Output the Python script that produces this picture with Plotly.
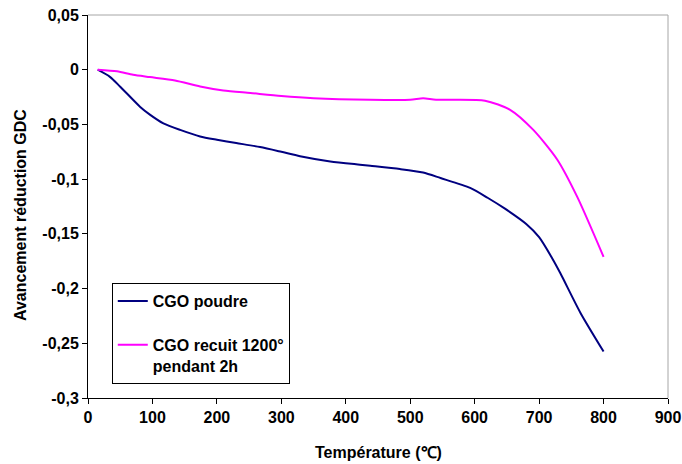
import plotly.graph_objects as go

# CGO poudre
temp_poudre = [15, 34, 50, 81, 96, 117, 143, 174, 200, 230, 267, 300, 329, 376, 422, 438,
               484, 520, 547, 593, 620, 647, 680, 700, 720, 733, 764, 800]
av_poudre = [0, -0.0065, -0.0155, -0.034, -0.041, -0.049, -0.055, -0.061, -0.064, -0.067,
             -0.0707, -0.075, -0.079, -0.0838, -0.0868, -0.0878, -0.0908, -0.094, -0.099,
             -0.108, -0.117, -0.127, -0.141, -0.153, -0.172, -0.186, -0.222, -0.2575]

# CGO recuit 1200° pendant 2h
temp_recuit = [15, 45, 70, 96, 135, 174, 210, 252, 300, 350, 438, 500, 520, 540, 616, 655,
               691, 728, 759, 800]
av_recuit = [0, -0.0015, -0.0046, -0.0067, -0.0098, -0.0153, -0.019, -0.0213, -0.024, -0.026,
             -0.0274, -0.0274, -0.026, -0.0274, -0.0283, -0.0366, -0.055, -0.082, -0.116, -0.171]

x_ticks = [0, 100, 200, 300, 400, 500, 600, 700, 800, 900]
y_ticks = [0.05, 0, -0.05, -0.1, -0.15, -0.2, -0.25, -0.3]
y_ticktext = ["0,05", "0", "-0,05", "-0,1", "-0,15", "-0,2", "-0,25", "-0,3"]

FONT = "Liberation Sans, Arial, sans-serif"

fig = go.Figure()
fig.add_trace(go.Scatter(x=temp_poudre, y=av_poudre, mode="lines", name="CGO poudre",
                         legendgroup="a", line=dict(color="#000080", width=2, shape="spline", smoothing=0.7)))
fig.add_trace(go.Scatter(x=temp_recuit, y=av_recuit, mode="lines",
                         name="CGO recuit 1200°<br>pendant 2h", legendgroup="b",
                         line=dict(color="#FF00FF", width=2, shape="spline", smoothing=0.7)))

fig.update_layout(
    width=682, height=464,
    margin=dict(l=88, r=14, t=15, b=66),
    paper_bgcolor="white", plot_bgcolor="white",
    font=dict(family=FONT, size=16, color="black", weight="bold"),
    showlegend=True,
    legend=dict(x=0.041, y=0.30, xanchor="left", yanchor="top",
                bordercolor="black", borderwidth=1, bgcolor="white",
                font=dict(family=FONT, size=16, color="black", weight="bold"),
                tracegroupgap=20, valign="top", itemwidth=30, traceorder="grouped"),
    xaxis=dict(range=[0, 900], tickvals=x_ticks, ticktext=[str(v) for v in x_ticks],
               showline=True, linecolor="black", linewidth=1, ticks="outside",
               ticklen=5, tickcolor="black", showgrid=False, zeroline=False, automargin=False,
               tickfont=dict(size=16, weight="bold")),
    yaxis=dict(range=[-0.3, 0.05], tickvals=y_ticks, ticktext=y_ticktext,
               showline=True, linecolor="black", linewidth=1, ticks="outside",
               ticklen=5, tickcolor="black", showgrid=False, zeroline=False, automargin=False,
               tickfont=dict(size=16, weight="bold")),
    annotations=[
        dict(text="Avancement réduction GDC", xref="paper", yref="paper",
             x=-(88 - 21) / 580, y=(398 - 215) / 383, xanchor="center", yanchor="middle",
             textangle=-90, showarrow=False, font=dict(size=16, weight="bold")),
        dict(text="Température (℃)", xref="paper", yref="paper",
             x=0.5, y=(398 - 452) / 383, xanchor="center", yanchor="middle",
             showarrow=False, font=dict(size=16, weight="bold")),
    ],
    shapes=[
        dict(type="line", xref="paper", yref="paper", x0=0, x1=1, y0=1, y1=1,
             line=dict(color="#a6a6a6", width=1)),
        dict(type="line", xref="paper", yref="paper", x0=1, x1=1, y0=0, y1=1,
             line=dict(color="#a6a6a6", width=1)),
    ],
)

fig.write_html("out.html", config={"displayModeBar": False},
               post_script="document.body.style.margin='0';document.body.style.overflow='hidden';")
